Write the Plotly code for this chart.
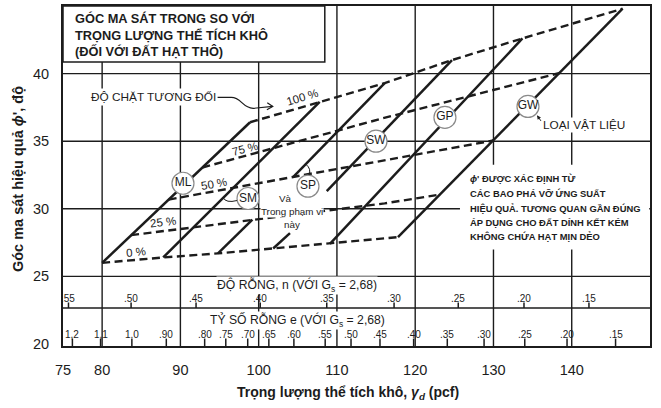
import plotly.graph_objects as go

FONT = "Liberation Sans, Arial, Helvetica, sans-serif"
INK = "#1c1c1c"

# ---------------- axes ----------------
x_tick_vals = [75, 80, 90, 100, 110, 120, 130, 140, 150]
y_tick_vals = [20, 25, 30, 35, 40, 45]
x_grid_vals = [80, 90, 100, 110, 120, 130, 140]
y_grid_vals = [25, 30, 35, 40]
band_line_phi = 22.66

# ---------------- material type lines (solid) ----------------
ml_x = [80.0, 98.9]
ml_phi = [26.0, 36.4]
sm_x = [87.8, 107.8]
sm_phi = [26.4, 37.9]
sm_low_x = [94.8, 99.2]
sm_low_phi = [26.7, 29.2]
sp_x = [104.4, 116.1]
sp_phi = [32.35, 39.3]
sp_low_x = [101.85, 104.0]
sp_low_phi = [27.06, 28.2]
sw_x = [108.7, 124.7]
sw_phi = [31.3, 41.0]
gp_x = [109.1, 133.7]
gp_phi = [27.4, 42.6]
gw_x = [117.8, 146.5]
gw_phi = [27.9, 44.8]

# ---------------- relative density curves (dashed) ----------------
dr0_x = [80.0, 87.8, 94.8, 101.85, 109.1, 117.8]
dr0_phi = [26.0, 26.4, 26.7, 27.06, 27.4, 27.9]
dr25_x = [83.7, 99.9, 116.1, 123.15]
dr25_phi = [28.05, 29.25, 30.4, 31.05]
dr50_x = [88.5, 104.4, 130.0]
dr50_phi = [30.68, 32.35, 35.05]
dr75_x = [92.8, 115.9, 138.5]
dr75_phi = [33.05, 36.7, 40.05]
dr100_x = [98.9, 107.8, 116.1, 124.7, 133.7, 146.5]
dr100_phi = [36.4, 37.9, 39.3, 41.0, 42.6, 44.8]

# ---------------- material labels ----------------
materials = ["ML", "SM", "SP", "SW", "GP", "GW"]
material_x = [90.33, 98.64, 106.30, 114.99, 123.80, 134.41]
material_phi = [31.89, 30.76, 31.67, 35.0, 36.76, 37.57]

# ---------------- secondary scales ----------------
por_pos = [75.7, 83.7, 92.0, 100.2, 108.7, 117.3, 125.5, 133.9, 142.2]
por_lbl = [".55", ".50", ".45", ".40", ".35", ".30", ".25", ".20", ".15"]
void_pos = [76.2, 79.8, 83.8, 88.2, 93.1, 95.8, 98.6, 101.3, 104.5, 108.5,
            111.8, 115.5, 119.8, 124.1, 128.8, 134.0, 139.4, 145.6]
void_lbl = ["1,2", "1,1", "1.0", ".90", ".80", ".75", ".70", ".65", ".60", ".55",
            ".50", ".45", ".40", ".35", ".30", ".25", ".20", ".15"]

fig = go.Figure()

dash_sets = [(dr0_x, dr0_phi), (dr25_x, dr25_phi), (dr50_x, dr50_phi),
             (dr75_x, dr75_phi), (dr100_x, dr100_phi)]
for xs, ys in dash_sets:
    fig.add_trace(go.Scatter(x=xs, y=ys, mode="lines",
                             line=dict(color=INK, width=2.4, dash="8px,4.5px"),
                             hoverinfo="skip"))

solid_sets = [(ml_x, ml_phi), (sm_x, sm_phi), (sm_low_x, sm_low_phi), (sp_x, sp_phi),
              (sp_low_x, sp_low_phi), (sw_x, sw_phi), (gp_x, gp_phi), (gw_x, gw_phi)]
for xs, ys in solid_sets:
    fig.add_trace(go.Scatter(x=xs, y=ys, mode="lines",
                             line=dict(color=INK, width=2.5), hoverinfo="skip"))

fig.add_trace(go.Scatter(x=material_x, y=material_phi, mode="markers+text",
                         text=materials, textposition="middle center",
                         textfont=dict(family=FONT, size=12, color=INK),
                         marker=dict(size=22, color="white",
                                     line=dict(color="#8a8a8a", width=1.2)),
                         hoverinfo="skip"))

# scale ticks
tx, ty = [], []
for p in por_pos:
    tx += [p, p, None]
    ty += [band_line_phi, 23.07, None]
for p in void_pos:
    tx += [p, p, None]
    ty += [19.85, 20.40, None]
fig.add_trace(go.Scatter(x=tx, y=ty, mode="lines", line=dict(color=INK, width=1.5),
                         hoverinfo="skip"))

shapes = []
for gx in x_grid_vals:
    shapes.append(dict(type="line", xref="x", yref="y", x0=gx, x1=gx, y0=19.85, y1=45,
                       line=dict(color=INK, width=1.4), layer="below"))
for gy in y_grid_vals + [band_line_phi]:
    shapes.append(dict(type="line", xref="x", yref="y", x0=75, x1=150, y0=gy, y1=gy,
                       line=dict(color=INK, width=1.4), layer="below"))
# white area behind the note block
shapes.append(dict(type="rect", xref="x", yref="y", x0=125.72, x1=149.9, y0=26.99, y1=33.26,
                   fillcolor="white", line=dict(width=0), layer="below"))
# title box
shapes.append(dict(type="rect", xref="x", yref="y", x0=75, x1=108.45, y0=40.85, y1=45,
                   fillcolor="white", line=dict(color=INK, width=1.5), layer="above"))
# curved arrow for relative density
shapes.append(dict(type="path", xref="x", yref="y",
                   path="M 94.7,38.24 L 96.5,38.24 C 97.8,38.24 97.9,37.45 99.3,37.43 L 101.8,37.57",
                   line=dict(color=INK, width=1.2), layer="above"))
shapes.append(dict(type="path", xref="x", yref="y",
                   path="M 101.1,37.85 L 101.8,37.57 L 101.05,37.33",
                   line=dict(color=INK, width=1.2), layer="above"))
# leaders SP and SM
shapes.append(dict(type="path", xref="x", yref="y",
                   path="M 106.43,32.5 Q 106.75,32.95 106.05,33.28",
                   line=dict(color=INK, width=1), layer="above"))
shapes.append(dict(type="path", xref="x", yref="y",
                   path="M 95.44,30.83 Q 95.83,30.4 97.23,30.61",
                   line=dict(color=INK, width=1), layer="above"))

ann = []


def txt(x, y, s, size, xref="x", yref="y", **kw):
    d = dict(x=x, y=y, xref=xref, yref=yref, text=s, showarrow=False,
             font=dict(family=FONT, size=size, color=INK))
    d.update(kw)
    ann.append(d)


# title
txt(76.28, 44.07, "<b>GÓC MA SÁT TRONG SO VỚI</b>", 12.8, xanchor="left")
txt(76.28, 42.82, "<b>TRỌNG LƯỢNG THỂ TÍCH KHÔ</b>", 12.8, xanchor="left")
txt(76.28, 41.6, "<b>(ĐỐI VỚI ĐẤT HẠT THÔ)</b>", 12.8, xanchor="left")

txt(86.56, 38.24, "ĐỘ CHẶT TƯƠNG ĐỐI", 11.8, bgcolor="white", borderpad=1)

txt(105.66, 38.27, "100 %", 11.5, textangle=-17)
txt(98.19, 34.39, "75 %", 11.5, textangle=-14)
txt(94.23, 31.82, "50 %", 11.5, textangle=-10)
txt(87.84, 29.04, "25 %", 11.5, textangle=-7)
txt(84.39, 26.8, "0 %", 11.5, textangle=-5)

txt(103.49, 30.76, "Và", 9.8)
txt(104.32, 29.78, "Trong phạm vi", 9.8, bgcolor="white", borderpad=0)
txt(104.32, 28.82, "này", 9.8)

txt(136.2, 36.18, "LOẠI VẬT LIỆU", 11.8, xanchor="left", bgcolor="white", borderpad=0)
ann.append(dict(x=135.56, y=36.91, xref="x", yref="y", ax=5, ay=7, text="",
                showarrow=True, arrowhead=2, arrowsize=0.8, arrowwidth=1, arrowcolor=INK))

note_lines = ["<b><i>ϕ</i>' ĐƯỢC XÁC ĐỊNH TỪ</b>", "<b>CÁC BAO PHÁ VỠ ỨNG SUẤT</b>",
              "<b>HIỆU QUẢ. TƯƠNG QUAN GẦN ĐÚNG</b>", "<b>ÁP DỤNG CHO ĐẤT DÍNH KẾT KÉM</b>",
              "<b>KHÔNG CHỨA HẠT MỊN DẺO</b>"]
note_phi = [32.27, 31.14, 30.0, 28.97, 27.94]
for s, yv in zip(note_lines, note_phi):
    txt(126.74, yv, s, 9.4, xanchor="left")

txt(104.9, 24.29, "ĐỘ RỖNG, n (VỚI G<sub>s</sub> = 2,68)", 12.2, bgcolor="white", borderpad=0)
txt(104.9, 21.77, "TỶ SỐ RỖNG e (VỚI G<sub>s</sub> = 2,68)", 12.2, bgcolor="white", borderpad=0)

for p, s in zip(por_pos, por_lbl):
    txt(p, 23.40, s, 10)
for p, s in zip(void_pos, void_lbl):
    txt(p, 20.72, s, 10)

txt(0.4847, -0.138, "<b>Trọng lượng thể tích khô, <i>γ<sub>d</sub></i> (pcf)</b>", 14,
    xref="paper", yref="paper", xanchor="center", yanchor="middle")
txt(-0.0767, 0.491, "<b>Góc ma sát hiệu quả <i>ϕ</i>', độ</b>", 14.5,
    xref="paper", yref="paper", textangle=-90, xanchor="center", yanchor="middle")

fig.update_layout(
    template="none",
    width=661, height=408,
    margin=dict(l=63, r=11, t=6, b=62),
    paper_bgcolor="white", plot_bgcolor="white",
    showlegend=False,
    font=dict(family=FONT, color=INK),
    shapes=shapes,
    annotations=ann,
    xaxis=dict(range=[75, 150], tickvals=x_tick_vals, showgrid=False, zeroline=False,
               showline=True, mirror=True, linecolor=INK, linewidth=2, ticks="",
               tickfont=dict(size=14.5, family=FONT, color=INK), ticklabelstandoff=10,
               automargin=False),
    yaxis=dict(range=[19.85, 45], tickvals=y_tick_vals, showgrid=False, zeroline=False,
               showline=True, mirror=True, linecolor=INK, linewidth=2, ticks="",
               tickfont=dict(size=14.5, family=FONT, color=INK), ticklabelstandoff=9,
               automargin=False),
)

fig.write_html(
    "out.html",
    config={"displayModeBar": False, "staticPlot": True},
    post_script="document.body.style.margin='0';document.body.style.padding='0';"
                "document.documentElement.style.overflow='hidden';",
)
